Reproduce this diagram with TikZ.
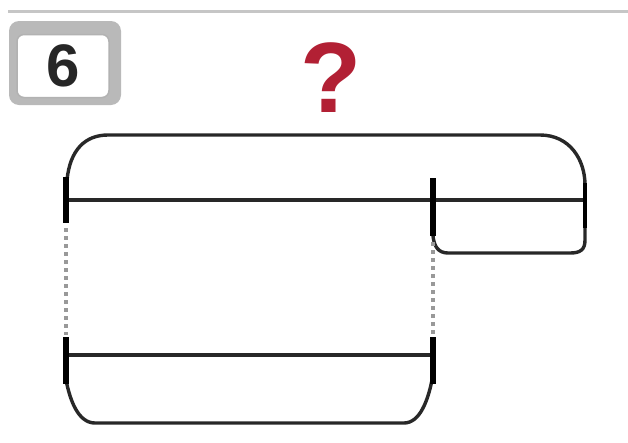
\documentclass[tikz,border=0pt]{standalone}
\usepackage{fontspec}
\setmainfont{Liberation Sans}
\definecolor{qred}{RGB}{178,32,52}
\definecolor{ink}{RGB}{40,40,40}
\tikzset{
  seg/.style={draw=ink, line width=4.5pt},
  brace/.style={draw=ink, line width=3.4pt, line join=round},
  tick/.style={draw=black, line width=5.5pt},
  dots/.style={draw=gray!80, line width=3.5pt, dash pattern=on 4pt off 4pt},
}
\begin{document}
\begin{tikzpicture}[x=1pt,y=-1pt]
\useasboundingbox (0,0) rectangle (628,442);
\fill[white] (0,0) rectangle (628,442);
% top gray rule
\draw[gray!45, line width=3pt] (8,11) -- (628,11);
% number box
\fill[gray!55, rounded corners=10pt] (9,21) rectangle (121,105);
\node[draw=gray!60, fill=white, line width=1.5pt, rounded corners=7pt,
      minimum width=92pt, minimum height=63pt, inner sep=0pt] (num) at (63,66) {};
\node[font=\bfseries\fontsize{60}{60}\selectfont, text=black!85] (six) at (num) {6};
% question mark
\node[font=\bfseries\fontsize{100}{100}\selectfont, text=qred] (q) at (331,78) {?};
% coordinates
\coordinate (tl) at (66,200);
\coordinate (tm) at (433,200);
\coordinate (tr) at (585,200);
\coordinate (bl) at (66,355);
\coordinate (br) at (433,355);
% top brace over whole
\draw[brace] (67,180) .. controls (70,150) and (85,135) .. (108,135) -- (540,135)
   .. controls (570,135) and (585,160) .. (585,185);
% right small brace below
\draw[brace] (585,215) -- (585,240) .. controls (585,250) and (580,253) .. (570,253)
   -- (448,253) .. controls (438,253) and (434,246) .. (433,236);
% bottom brace
\draw[brace] (66,380) .. controls (70,400) and (78,423) .. (95,423) -- (404,423)
   .. controls (420,423) and (428,400) .. (432,380);
% segments
\draw[seg] (tl) -- (tm);
\draw[seg] (tm) -- (tr);
\draw[seg] (bl) -- (br);
% ticks
\draw[tick] (66,177) -- (66,223);
\draw[tick] (433,178) -- (433,236);
\draw[draw=black, line width=4.5pt] (585,183) -- (585,228);
\draw[tick] (66,337) -- (66,384);
\draw[tick] (433,337) -- (433,384);
% dotted guides
\draw[dots] (66,228) -- (66,335);
\draw[dots] (433,242) -- (433,335);
\end{tikzpicture}
\end{document}
